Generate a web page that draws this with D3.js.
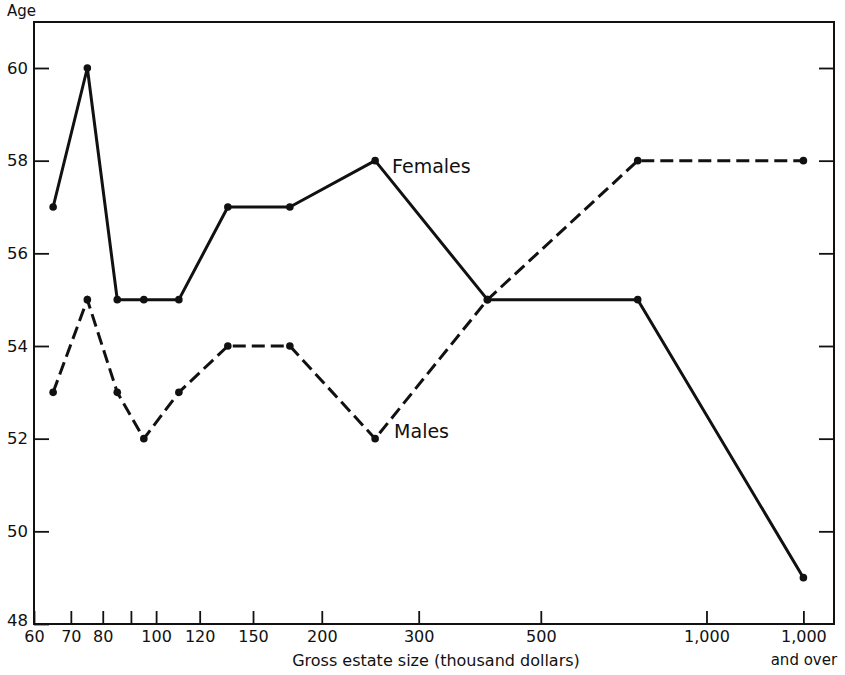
<!DOCTYPE html>
<html>
<head>
<meta charset="utf-8">
<script src="https://cdn.jsdelivr.net/npm/d3@7"></script>
<style>
  body { margin: 0; background: #fff; }
  text { font-family: "DejaVu Sans", sans-serif; fill: #111; }
</style>
</head>
<body>
<div id="chart"></div>
<script>
// estate size classes (thousand dollars) and the midpoints they are plotted at
const classes = ["60-70", "70-80", "80-90", "90-100", "100-120", "120-150", "150-200", "200-300", "300-500", "500-1,000", "1,000 and over"]
const midpoints = [65, 75, 85, 95, 110, 135, 175, 250, 400, 750, 1500]

// average age by class
const females = [57, 60, 55, 55, 55, 57, 57, 58, 55, 55, 49]
const males = [53, 55, 53, 52, 53, 54, 54, 52, 55, 58, 58]

// axis ticks
const xTickValues = [60, 70, 80, 90, 100, 120, 150, 200, 300, 500, 1000, 1500]
const xTickLabels = ["60", "70", "80", "", "100", "120", "150", "200", "300", "500", "1,000", "1,000"]
const yTickValues = [48, 50, 52, 54, 56, 58, 60]

const W = 845, H = 675
const plotLeft = 34, plotRight = 834, plotTop = 22, plotBottom = 624
const font = "'DejaVu Sans', sans-serif"

const svg = d3.select("#chart")
    .append("svg")
    .attr("width", W)
    .attr("height", H)

// log scale for estate size, last class sits past 1,000
const x = d3.scaleLog()
    .domain([60, 1500])
    .range([plotLeft, 803.4])

const y = d3.scaleLinear()
    .domain([48, 60])
    .range([plotBottom, 68])

// frame
svg.append("rect")
    .attr("x", plotLeft)
    .attr("y", plotTop)
    .attr("width", plotRight - plotLeft)
    .attr("height", plotBottom - plotTop)
    .attr("fill", "none")
    .attr("stroke", "#111")
    .attr("stroke-width", 2)

// x axis, ticks pointing inward
const xAxis = svg.append("g")
    .attr("transform", `translate(0,${plotBottom})`)
    .call(d3.axisBottom(x)
        .tickValues(xTickValues)
        .tickFormat((d, i) => xTickLabels[i])
        .tickSize(-13)
        .tickPadding(7))
xAxis.select(".domain").remove()
xAxis.selectAll("line").attr("stroke", "#111").attr("stroke-width", 1.8)
xAxis.selectAll("text")
    .attr("font-size", 16)
    .attr("fill", "#111")
    .style("font-family", font)

// second line under the last label
xAxis.selectAll(".tick").filter(d => d === 1500)
    .append("text")
    .attr("y", 41)
    .attr("text-anchor", "middle")
    .attr("font-size", 15)
    .attr("fill", "#111")
    .style("font-family", font)
    .text("and over")

// y axis on the left, inward ticks
const yAxis = svg.append("g")
    .attr("transform", `translate(${plotLeft},0)`)
    .call(d3.axisLeft(y)
        .tickValues(yTickValues)
        .tickSize(-15)
        .tickPadding(6))
yAxis.select(".domain").remove()
yAxis.selectAll("line").attr("stroke", "#111").attr("stroke-width", 1.8)
yAxis.selectAll("text")
    .attr("font-size", 16.5)
    .attr("fill", "#111")
    .style("font-family", font)
// 48 sits just above the corner
yAxis.selectAll(".tick").filter(d => d === 48).select("text").attr("dy", "0.1em")

// matching ticks on the right side
const yAxisRight = svg.append("g")
    .attr("transform", `translate(${plotRight},0)`)
    .call(d3.axisRight(y)
        .tickValues(yTickValues.filter(d => d > 48))
        .tickSize(-15)
        .tickFormat(""))
yAxisRight.select(".domain").remove()
yAxisRight.selectAll("line").attr("stroke", "#111").attr("stroke-width", 1.8)

// axis titles
svg.append("text")
    .attr("x", 7)
    .attr("y", 16)
    .attr("font-size", 15)
    .text("Age")

svg.append("text")
    .attr("x", 436)
    .attr("y", 666)
    .attr("text-anchor", "middle")
    .attr("font-size", 16)
    .text("Gross estate size (thousand dollars)")

// lines
const line = d3.line()
    .x((d, i) => x(midpoints[i]))
    .y(d => y(d))

svg.append("path")
    .datum(females)
    .attr("d", line)
    .attr("fill", "none")
    .attr("stroke", "#111")
    .attr("stroke-width", 3)
    .attr("stroke-linejoin", "round")

svg.append("path")
    .datum(males)
    .attr("d", line)
    .attr("fill", "none")
    .attr("stroke", "#111")
    .attr("stroke-width", 3)
    .attr("stroke-dasharray", "13,6")

// dots
svg.selectAll(".dot-f")
    .data(females)
    .join("circle")
    .attr("class", "dot-f")
    .attr("cx", (d, i) => x(midpoints[i]))
    .attr("cy", d => y(d))
    .attr("r", 3.8)
    .attr("fill", "#111")

svg.selectAll(".dot-m")
    .data(males)
    .join("circle")
    .attr("class", "dot-m")
    .attr("cx", (d, i) => x(midpoints[i]))
    .attr("cy", d => y(d))
    .attr("r", 3.8)
    .attr("fill", "#111")

// series labels next to the 200-300 class
svg.append("text")
    .attr("x", x(midpoints[7]) + 17)
    .attr("y", y(females[7]) + 12)
    .attr("font-size", 19)
    .text("Females")

svg.append("text")
    .attr("x", x(midpoints[7]) + 19)
    .attr("y", y(males[7]) - 1)
    .attr("font-size", 19)
    .text("Males")
</script>
</body>
</html>
